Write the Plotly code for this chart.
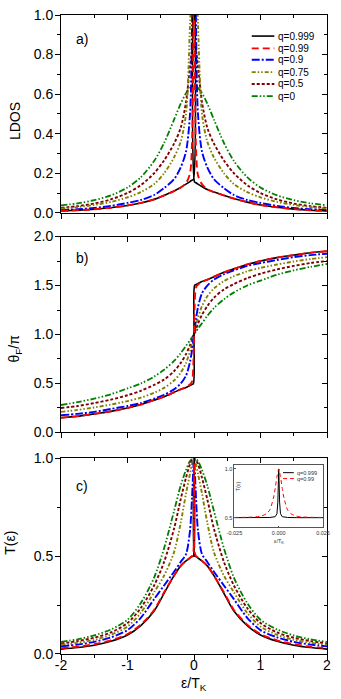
import plotly.graph_objects as go

# ---------------- data ----------------
X = [-2, -1.75, -1.5, -1.25, -1, -0.8, -0.6, -0.45, -0.3, -0.2, -0.12, -0.06, -0.03, -0.01, 0,
     0.01, 0.03, 0.06, 0.12, 0.2, 0.3, 0.45, 0.6, 0.8, 1, 1.25, 1.5, 1.75, 2]
X_TICKS = [-2, -1, 0, 1, 2]
X_TICKTEXT = ["-2", "-1", "0", "1", "2"]
INSET_X_TICKS = [-0.025, 0, 0.025]
INSET_X_TICKTEXT = ["-0.025", "0.000", "0.025"]

Q_LABELS = ["q=0.999", "q=0.99", "q=0.9", "q=0.75", "q=0.5", "q=0"]

# panel a) LDOS
LDOS_Q0999 = [0.009, 0.013, 0.018, 0.026, 0.037, 0.05, 0.068, 0.088, 0.11, 0.128, 0.145, 0.158, 0.165, 0.168, 1.6,
              0.155, 0.152, 0.145, 0.133, 0.118, 0.105, 0.088, 0.072, 0.054, 0.04, 0.028, 0.019, 0.013, 0.009]
LDOS_Q099 = [0.009, 0.013, 0.018, 0.026, 0.037, 0.05, 0.068, 0.088, 0.11, 0.128, 0.15, 0.2, 0.35, 0.9, 1.6,
             0.85, 0.33, 0.19, 0.145, 0.12, 0.105, 0.088, 0.072, 0.054, 0.04, 0.028, 0.019, 0.013, 0.009]
LDOS_Q09 = [0.013, 0.018, 0.025, 0.035, 0.05, 0.065, 0.09, 0.125, 0.17, 0.23, 0.31, 0.5, 0.95, 2.0, 3.0,
            2.0, 0.95, 0.5, 0.31, 0.23, 0.17, 0.125, 0.09, 0.065, 0.05, 0.035, 0.025, 0.018, 0.013]
LDOS_Q075 = [0.021, 0.029, 0.04, 0.055, 0.078, 0.105, 0.145, 0.2, 0.28, 0.36, 0.5, 0.95, 1.2, 1.38, 1.46,
             1.38, 1.2, 0.95, 0.5, 0.36, 0.28, 0.2, 0.145, 0.105, 0.078, 0.055, 0.04, 0.029, 0.021]
LDOS_Q05 = [0.025, 0.034, 0.047, 0.068, 0.1, 0.14, 0.2, 0.265, 0.35, 0.43, 0.56, 0.74, 0.82, 0.845, 0.85,
            0.845, 0.82, 0.74, 0.56, 0.43, 0.35, 0.265, 0.2, 0.14, 0.1, 0.068, 0.047, 0.034, 0.025]
LDOS_Q0 = [0.038, 0.048, 0.064, 0.088, 0.128, 0.18, 0.262, 0.353, 0.471, 0.552, 0.605, 0.631, 0.638, 0.64, 0.64,
           0.64, 0.638, 0.631, 0.605, 0.552, 0.471, 0.353, 0.262, 0.18, 0.128, 0.088, 0.064, 0.048, 0.038]

# panel b) theta_F / pi
THETA_Q0999 = [0.15, 0.165, 0.19, 0.215, 0.25, 0.285, 0.33, 0.365, 0.41, 0.44, 0.46, 0.48, 0.49, 0.497, 1.0,
               1.503, 1.51, 1.52, 1.54, 1.56, 1.59, 1.635, 1.67, 1.715, 1.75, 1.785, 1.81, 1.835, 1.85]
THETA_Q099 = [0.15, 0.165, 0.19, 0.215, 0.25, 0.285, 0.33, 0.365, 0.41, 0.44, 0.465, 0.49, 0.52, 0.7, 1.0,
              1.3, 1.48, 1.51, 1.535, 1.56, 1.59, 1.635, 1.67, 1.715, 1.75, 1.785, 1.81, 1.835, 1.85]
THETA_Q09 = [0.175, 0.19, 0.21, 0.24, 0.27, 0.3, 0.345, 0.385, 0.44, 0.5, 0.58, 0.72, 0.84, 0.95, 1.0,
             1.05, 1.16, 1.28, 1.42, 1.5, 1.56, 1.615, 1.655, 1.7, 1.73, 1.76, 1.79, 1.81, 1.825]
THETA_Q075 = [0.21, 0.23, 0.255, 0.285, 0.32, 0.355, 0.405, 0.455, 0.53, 0.61, 0.71, 0.83, 0.91, 0.97, 1.0,
              1.03, 1.09, 1.17, 1.29, 1.39, 1.47, 1.545, 1.595, 1.645, 1.68, 1.715, 1.745, 1.77, 1.79]
THETA_Q05 = [0.25, 0.27, 0.3, 0.335, 0.38, 0.425, 0.485, 0.54, 0.625, 0.71, 0.8, 0.89, 0.945, 0.98, 1.0,
             1.02, 1.055, 1.11, 1.2, 1.29, 1.375, 1.46, 1.515, 1.575, 1.62, 1.665, 1.7, 1.73, 1.75]
THETA_Q0 = [0.28, 0.31, 0.345, 0.39, 0.45, 0.5, 0.57, 0.64, 0.73, 0.81, 0.885, 0.94, 0.97, 0.99, 1.0,
            1.01, 1.03, 1.06, 1.115, 1.19, 1.27, 1.36, 1.43, 1.5, 1.55, 1.61, 1.655, 1.69, 1.72]

# panel c) T(eps)
T_Q0999 = [0.025, 0.033, 0.045, 0.065, 0.097, 0.145, 0.22, 0.31, 0.4, 0.45, 0.475, 0.49, 0.497, 0.5, 1.0,
           0.5, 0.497, 0.49, 0.475, 0.45, 0.4, 0.31, 0.22, 0.145, 0.097, 0.065, 0.045, 0.033, 0.025]
T_Q099 = [0.03, 0.037, 0.05, 0.07, 0.102, 0.15, 0.225, 0.315, 0.4, 0.45, 0.475, 0.492, 0.5, 0.52, 1.0,
          0.52, 0.5, 0.492, 0.475, 0.45, 0.4, 0.315, 0.225, 0.15, 0.102, 0.07, 0.05, 0.037, 0.03]
T_Q09 = [0.039, 0.048, 0.062, 0.085, 0.122, 0.185, 0.28, 0.35, 0.42, 0.47, 0.51, 0.63, 0.8, 0.95, 1.0,
         0.95, 0.8, 0.63, 0.51, 0.47, 0.42, 0.35, 0.28, 0.185, 0.122, 0.085, 0.062, 0.048, 0.039]
T_Q075 = [0.047, 0.057, 0.072, 0.098, 0.14, 0.21, 0.315, 0.4, 0.52, 0.67, 0.82, 0.92, 0.97, 0.995, 1.0,
          0.995, 0.97, 0.92, 0.82, 0.67, 0.52, 0.4, 0.315, 0.21, 0.14, 0.098, 0.072, 0.057, 0.047]
T_Q05 = [0.054, 0.066, 0.083, 0.11, 0.158, 0.235, 0.35, 0.47, 0.64, 0.79, 0.9, 0.97, 0.99, 0.998, 1.0,
         0.998, 0.99, 0.97, 0.9, 0.79, 0.64, 0.47, 0.35, 0.235, 0.158, 0.11, 0.083, 0.066, 0.054]
T_Q0 = [0.062, 0.075, 0.095, 0.125, 0.175, 0.26, 0.39, 0.54, 0.73, 0.86, 0.94, 0.985, 0.995, 0.999, 1.0,
        0.999, 0.995, 0.985, 0.94, 0.86, 0.73, 0.54, 0.39, 0.26, 0.175, 0.125, 0.095, 0.075, 0.062]

# inset (T near zero)
INSET_X_Q099 = [-0.025, -0.02, -0.015, -0.01, -0.007, -0.005, -0.003, -0.002, -0.001, 0,
                0.001, 0.002, 0.003, 0.005, 0.007, 0.01, 0.015, 0.02, 0.025]
INSET_T_Q099 = [0.502, 0.503, 0.506, 0.515, 0.54, 0.58, 0.7, 0.8, 0.92, 1.0,
                0.92, 0.8, 0.7, 0.58, 0.54, 0.515, 0.506, 0.503, 0.502]
INSET_X_Q0999 = [-0.025, -0.01, -0.005, -0.002, -0.001, -0.0005, -0.0002, 0,
                 0.0002, 0.0005, 0.001, 0.002, 0.005, 0.01, 0.025]
INSET_T_Q0999 = [0.5, 0.5, 0.502, 0.51, 0.54, 0.66, 0.88, 1.0, 0.88, 0.66, 0.54, 0.51, 0.502, 0.5, 0.5]

# ---------------- styles ----------------
COLORS = ["#000000", "#ff0000", "#0000ff", "#808000", "#800000", "#008000"]
DASHES = ["solid", "7px,4px", "8px,2px,2px,2px", "4px,2px,1.5px,2px,1.5px,2px",
          "3px,2px", "6px,2px,1.5px,2px,1.5px,2px"]
WIDTHS = [1.6, 1.9, 1.9, 1.9, 1.9, 1.8]
FONT = "Liberation Sans, Arial, sans-serif"

panels = [
    ("x", "y", [LDOS_Q0999, LDOS_Q099, LDOS_Q09, LDOS_Q075, LDOS_Q05, LDOS_Q0]),
    ("x2", "y2", [THETA_Q0999, THETA_Q099, THETA_Q09, THETA_Q075, THETA_Q05, THETA_Q0]),
    ("x3", "y3", [T_Q0999, T_Q099, T_Q09, T_Q075, T_Q05, T_Q0]),
]

fig = go.Figure()
draw_order = [5, 4, 3, 2, 0, 1]
for xa, ya, series in panels:
    for i in draw_order:
        fig.add_trace(go.Scatter(
            x=X, y=series[i], xaxis=xa, yaxis=ya, mode="lines", name=Q_LABELS[i],
            showlegend=False,
            line=dict(color=COLORS[i], dash=DASHES[i], width=WIDTHS[i], shape="spline", smoothing=0.8)))

# inset traces
fig.add_trace(go.Scatter(x=INSET_X_Q0999, y=INSET_T_Q0999, xaxis="x7", yaxis="y7", mode="lines",
                         name=Q_LABELS[0], showlegend=False,
                         line=dict(color=COLORS[0], width=1.0)))
fig.add_trace(go.Scatter(x=INSET_X_Q099, y=INSET_T_Q099, xaxis="x7", yaxis="y7", mode="lines",
                         name=Q_LABELS[1], showlegend=False,
                         line=dict(color=COLORS[1], width=1.0, dash="4px,3px", shape="spline", smoothing=0.6)))

# dummy traces to activate the top/right mirror axes (inside ticks)
for xa, ya, xo, yo in [("x", "y", "x4", "y4"), ("x2", "y2", "x5", "y5"), ("x3", "y3", "x6", "y6")]:
    fig.add_trace(go.Scatter(x=[None], y=[None], xaxis=xo, yaxis=ya, showlegend=False, hoverinfo="skip"))
    fig.add_trace(go.Scatter(x=[None], y=[None], xaxis=xa, yaxis=yo, showlegend=False, hoverinfo="skip"))

TICKFONT = dict(family=FONT, size=14, color="black")


def xaxis(anchor, labels):
    return dict(anchor=anchor, domain=[0, 1], range=[-2, 2], showline=True, linecolor="black",
                linewidth=1, mirror=True, ticks="outside", ticklen=5, tickwidth=1, tickcolor="black",
                tickvals=X_TICKS, ticktext=X_TICKTEXT, showticklabels=labels, showgrid=False,
                zeroline=False, tickfont=TICKFONT, ticklabelstandoff=-7,
                minor=dict(ticks="outside", ticklen=3, tickwidth=1, tickcolor="black", tick0=0,
                           dtick=0.5, showgrid=False))


def xtop(over, anchor):
    return dict(overlaying=over, anchor=anchor, side="top", range=[-2, 2], ticks="inside", ticklen=5,
                tickwidth=1, tickcolor="black", tick0=0, dtick=1, showticklabels=False,
                showline=False, showgrid=False, zeroline=False,
                minor=dict(ticks="inside", ticklen=3, tickwidth=1, tickcolor="black", tick0=0,
                           dtick=0.5, showgrid=False))


def yaxis(anchor, dom, rng, dt, mdt):
    return dict(anchor=anchor, domain=dom, range=rng, showline=True, linecolor="black", linewidth=1,
                mirror=True, ticks="outside", ticklen=5, tickwidth=1, tickcolor="black", tick0=0,
                dtick=dt, tickformat=".1f", showgrid=False, zeroline=False, tickfont=TICKFONT,
                ticklabelstandoff=-1,
                minor=dict(ticks="outside", ticklen=3, tickwidth=1, tickcolor="black", tick0=0,
                           dtick=mdt, showgrid=False))


def yright(over, anchor, rng, dt, mdt):
    return dict(overlaying=over, anchor=anchor, side="right", range=rng, ticks="inside", ticklen=5,
                tickwidth=1, tickcolor="black", tick0=0, dtick=dt, showticklabels=False,
                showline=False, showgrid=False, zeroline=False,
                minor=dict(ticks="inside", ticklen=3, tickwidth=1, tickcolor="black", tick0=0,
                           dtick=mdt, showgrid=False))


DOM_A = [0.6904, 1.0]
DOM_B = [0.3467, 0.6533]
DOM_C = [0.0, 0.3065]

fig.update_layout(
    width=341, height=699,
    margin=dict(l=61, r=7, t=8, b=45),
    paper_bgcolor="white", plot_bgcolor="white",
    font=dict(family=FONT, color="black"),
    showlegend=False,
    xaxis=xaxis("y", False),
    xaxis2=xaxis("y2", False),
    xaxis3=xaxis("y3", True),
    xaxis4=xtop("x", "y"),
    xaxis5=xtop("x2", "y2"),
    xaxis6=xtop("x3", "y3"),
    yaxis=yaxis("x", DOM_A, [0, 1], 0.2, 0.1),
    yaxis2=yaxis("x2", DOM_B, [0, 2], 0.5, 0.25),
    yaxis3=yaxis("x3", DOM_C, [0, 1], 0.5, 0.25),
    yaxis4=yright("y", "x", [0, 1], 0.2, 0.1),
    yaxis5=yright("y2", "x2", [0, 2], 0.5, 0.25),
    yaxis6=yright("y3", "x3", [0, 1], 0.5, 0.25),
    xaxis7=dict(anchor="y7", domain=[0.652, 0.985], range=[-0.025, 0.025], showline=True,
                linecolor="#555", linewidth=0.8, mirror=True, ticks="inside", ticklen=2,
                tickcolor="#555", tickvals=INSET_X_TICKS, ticktext=INSET_X_TICKTEXT,
                showgrid=False, zeroline=False, tickfont=dict(family=FONT, size=5.5, color="#333")),
    yaxis7=dict(anchor="x7", domain=[0.1981, 0.2957], range=[0.4, 1.04], showline=True,
                linecolor="#555", linewidth=0.8, mirror=True, ticks="inside", ticklen=2,
                tickcolor="#555", tickvals=[0.5, 1.0], tickformat=".1f",
                showgrid=False, zeroline=False, tickfont=dict(family=FONT, size=5.5, color="#333")),
)

annotations = [
    dict(text="a)", xref="x domain", yref="y domain", x=0.048, y=0.8775, xanchor="left", yanchor="middle"),
    dict(text="b)", xref="x2 domain", yref="y2 domain", x=0.048, y=0.889, xanchor="left", yanchor="middle"),
    dict(text="c)", xref="x3 domain", yref="y3 domain", x=0.048, y=0.859, xanchor="left", yanchor="middle"),
    dict(text="LDOS", xref="paper", yref="y domain", x=-0.172, y=0.465, textangle=-90,
         xanchor="center", yanchor="middle"),
    dict(text="θ<sub>F</sub>/π", xref="paper", yref="y2 domain", x=-0.172, y=0.43, textangle=-90,
         xanchor="center", yanchor="middle"),
    dict(text="T(ε)", xref="paper", yref="y3 domain", x=-0.19, y=0.57, textangle=-90,
         xanchor="center", yanchor="middle"),
    dict(text="ε/T<sub>K</sub>", xref="x3 domain", yref="paper", x=0.5, y=-0.0464,
         xanchor="center", yanchor="middle"),
]
for a in annotations:
    a.update(showarrow=False, font=dict(family=FONT, size=14, color="black"))

# legend for the main panels (drawn in panel a)
LEG_Y = [0.8935, 0.8315, 0.7735, 0.7115, 0.6515, 0.59]
shapes = []
for i, ly in enumerate(LEG_Y):
    shapes.append(dict(type="line", xref="x domain", yref="y domain", x0=0.717, x1=0.802, y0=ly, y1=ly,
                       line=dict(color=COLORS[i], dash=DASHES[i], width=WIDTHS[i])))
    annotations.append(dict(text=Q_LABELS[i], xref="x domain", yref="y domain", x=0.807, y=ly,
                            xanchor="left", yanchor="middle", showarrow=False,
                            font=dict(family=FONT, size=10, color="black")))

# inset legend
INSET_LEG_Y = [0.878, 0.783]
INSET_DASH = ["solid", "4px,3px"]
for i, ly in enumerate(INSET_LEG_Y):
    shapes.append(dict(type="line", xref="x7 domain", yref="y7 domain", x0=0.549, x1=0.67, y0=ly, y1=ly,
                       line=dict(color=COLORS[i], dash=INSET_DASH[i], width=1.0)))
    annotations.append(dict(text=Q_LABELS[i], xref="x7 domain", yref="y7 domain", x=0.68, y=ly,
                            xanchor="left", yanchor="middle", showarrow=False,
                            font=dict(family=FONT, size=5.5, color="#333")))

annotations.append(dict(text="T(ε)", xref="paper", yref="y7 domain", x=0.663, y=0.667, textangle=-90,
                        xanchor="center", yanchor="middle", showarrow=False,
                        font=dict(family=FONT, size=5.5, color="#333")))
annotations.append(dict(text="ε/T<sub>K</sub>", xref="x7 domain", yref="paper", x=0.5, y=0.1765,
                        xanchor="center", yanchor="middle", showarrow=False,
                        font=dict(family=FONT, size=5.5, color="#333")))

fig.update_layout(annotations=annotations, shapes=shapes)
fig.write_html("out.html", config={"displayModeBar": False},
               post_script="document.body.style.margin='0';document.body.style.padding='0';")
